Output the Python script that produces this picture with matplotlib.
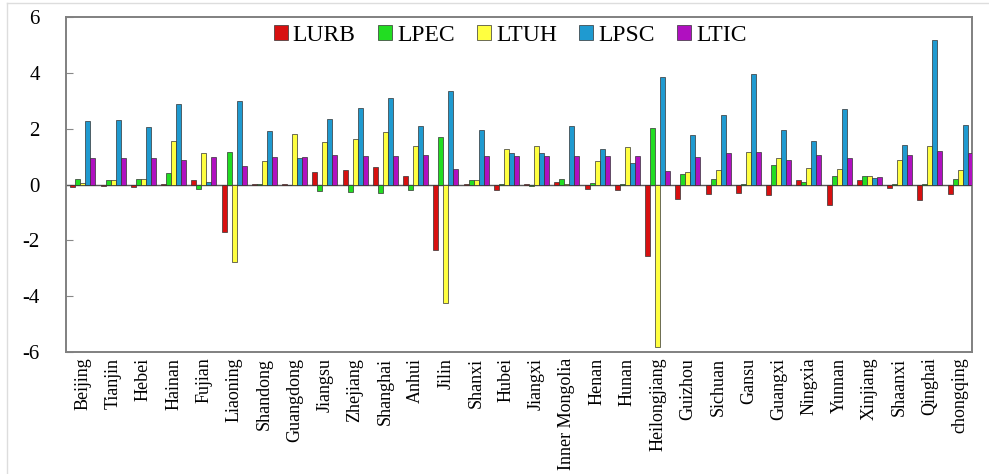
import numpy as np
import matplotlib
matplotlib.use("Agg")
import matplotlib.pyplot as plt
from matplotlib.lines import Line2D

provinces = ["Beijing", "Tianjin", "Hebei", "Hainan", "Fujian", "Liaoning", "Shandong",
             "Guangdong", "Jiangsu", "Zhejiang", "Shanghai", "Anhui", "Jilin", "Shanxi",
             "Hubei", "Jiangxi", "Inner Mongolia", "Henan", "Hunan", "Heilongjiang",
             "Guizhou", "Sichuan", "Gansu", "Guangxi", "Ningxia", "Yunnan", "Xinjiang",
             "Shaanxi", "Qinghai", "chongqing"]

LURB = [-0.10, -0.05, -0.10, 0.02, 0.15, -1.70, 0.01, 0.03, 0.45, 0.51, 0.62, 0.31, -2.35, 0.01,
        -0.20, 0.02, 0.09, -0.16, -0.21, -2.55, -0.50, -0.33, -0.30, -0.37, 0.18, -0.74, 0.15,
        -0.13, -0.54, -0.35]
LPEC = [0.20, 0.15, 0.20, 0.40, -0.17, 1.18, 0.02, 0.00, -0.24, -0.25, -0.30, -0.20, 1.69, 0.17,
        0.02, -0.05, 0.20, 0.07, 0.02, 2.02, 0.39, 0.20, 0.03, 0.69, 0.08, 0.30, 0.32, 0.03,
        0.02, 0.20]
LTUH = [0.05, 0.15, 0.20, 1.57, 1.14, -2.78, 0.85, 1.81, 1.51, 1.65, 1.87, 1.39, -4.23, 0.17,
        1.29, 1.39, 0.02, 0.86, 1.36, -5.81, 0.45, 0.51, 1.17, 0.94, 0.61, 0.56, 0.32, 0.88,
        1.40, 0.51]
LPSC = [2.28, 2.30, 2.07, 2.89, 0.08, 2.99, 1.93, 0.94, 2.36, 2.76, 3.10, 2.10, 3.37, 1.94,
        1.14, 1.15, 2.10, 1.27, 0.76, 3.85, 1.77, 2.48, 3.95, 1.94, 1.56, 2.71, 0.23, 1.42,
        5.19, 2.13]
LTIC = [0.95, 0.95, 0.97, 0.89, 0.99, 0.68, 0.99, 0.99, 1.06, 1.04, 1.04, 1.07, 0.57, 1.01,
        1.01, 1.01, 1.01, 1.01, 1.01, 0.50, 0.99, 1.15, 1.17, 0.87, 1.07, 0.94, 0.29, 1.07,
        1.21, 1.14]

series = [("LURB", LURB, "#d81010"), ("LPEC", LPEC, "#22dd22"), ("LTUH", LTUH, "#ffff40"),
          ("LPSC", LPSC, "#1f9ad0"), ("LTIC", LTIC, "#b010c0")]
yticks = [-6, -4, -2, 0, 2, 4, 6]

plt.rcParams["font.family"] = ["Liberation Serif", "DejaVu Serif"]

fig = plt.figure(figsize=(9.89, 4.74), dpi=100)
ax = fig.add_axes([0.067, 0.257, 0.916, 0.707])

x = np.arange(len(provinces))
w = 0.165
for i, (name, vals, col) in enumerate(series):
    ax.bar(x + (i - 2) * w, vals, width=w, color=col, edgecolor="#333333",
           linewidth=0.5, label=name, zorder=3)

ax.axhline(0, color="#555555", linewidth=1.0, zorder=2)
ax.set_ylim(-6, 6)
ax.set_xlim(-0.55, 29.4)
ax.set_yticks(yticks)
ax.set_yticklabels([str(t) for t in yticks], fontsize=15)
ax.set_xticks(x)
ax.set_xticklabels(provinces, rotation=90, fontsize=13)
ax.tick_params(axis="y", direction="in", length=5, color="#888888", pad=19)
ax.tick_params(axis="x", length=0, pad=4)
for s in ax.spines.values():
    s.set_color("#808080")
    s.set_linewidth(1.4)

leg = ax.legend(loc="upper center", bbox_to_anchor=(0.49, 1.04), ncol=5, frameon=False,
                fontsize=17, handlelength=0.6, handleheight=0.6, handletextpad=0.2,
                columnspacing=0.95)

# faint page edges of the source screenshot
fig.add_artist(Line2D([7 / 989, 7 / 989], [0, 1 - 3 / 474], color="#dddddd", lw=1))
fig.add_artist(Line2D([7 / 989, 1], [1 - 3 / 474, 1 - 3 / 474], color="#dddddd", lw=1))

fig.savefig("out.png", dpi=100, facecolor="white")
